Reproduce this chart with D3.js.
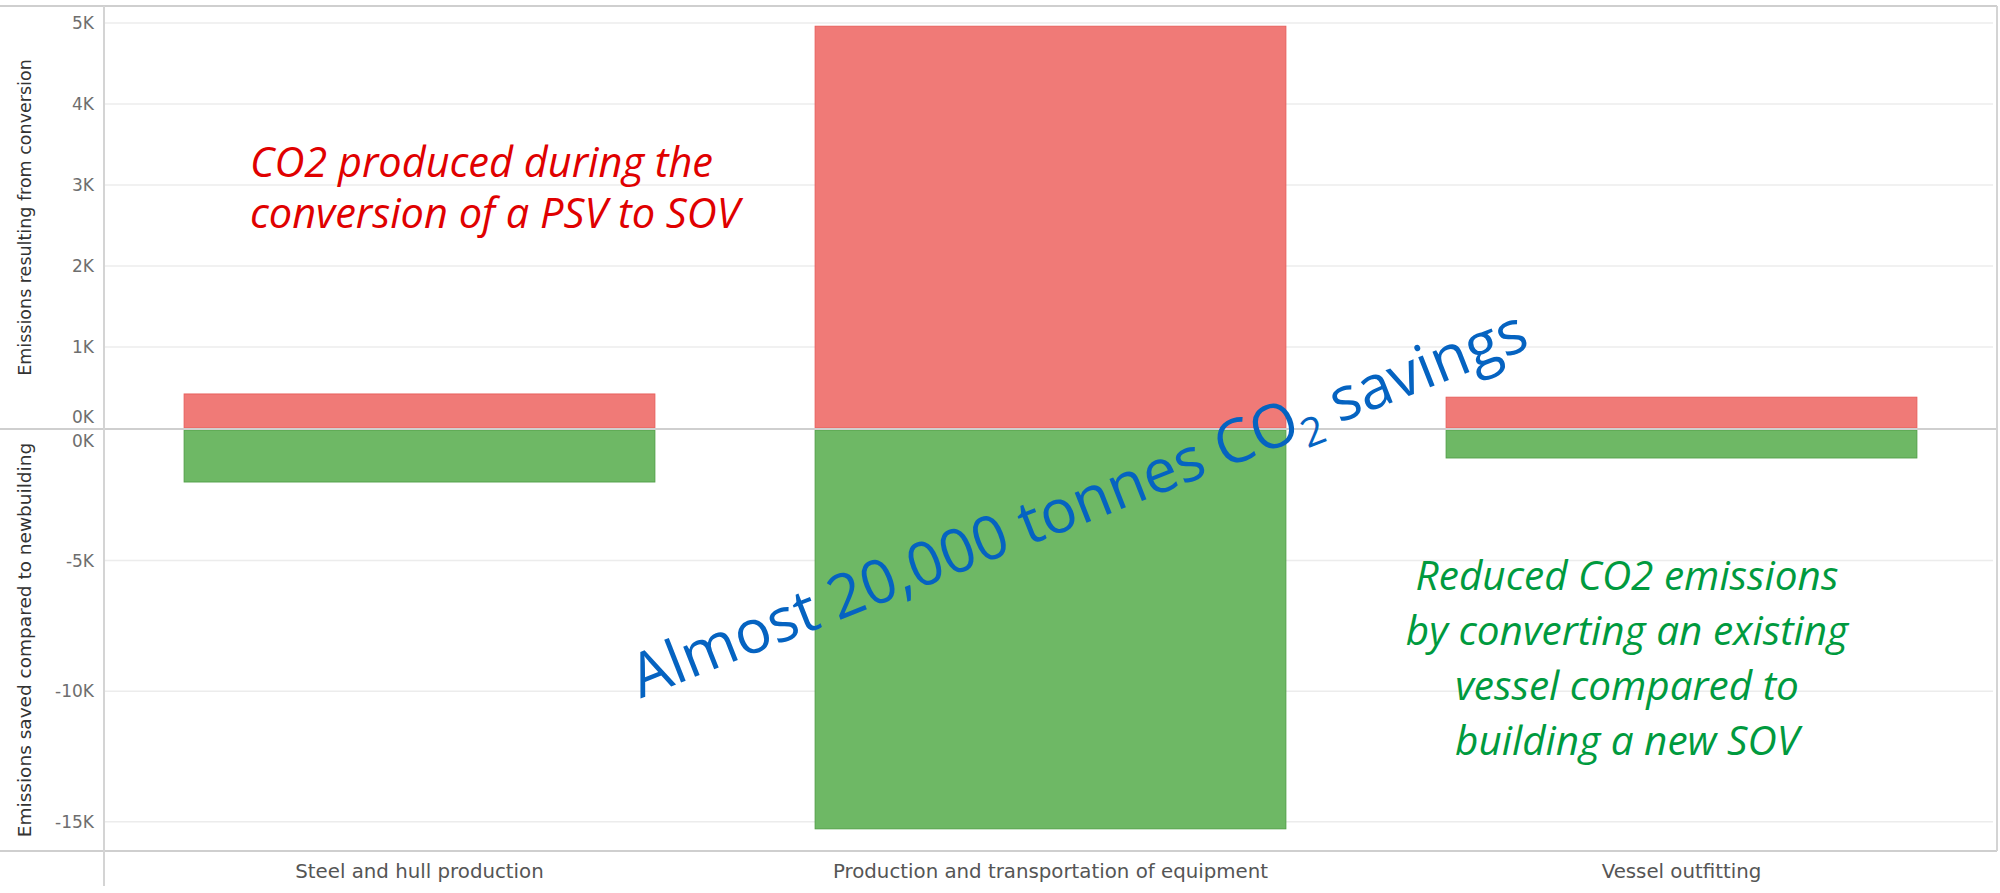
<!DOCTYPE html>
<html lang="en">
<head>
  <meta charset="UTF-8">
  <title>CO2 from PSV to SOV conversion vs newbuilding</title>
  <style>
    body {
      margin: 0;
      background-color: white;
      overflow: hidden;
    }

    .tick-label {
      font-family: "DejaVu Sans", sans-serif;
      font-size: 17px;
      fill: #6e6e6e;
    }

    .axis-title {
      font-family: "DejaVu Sans", sans-serif;
      font-size: 17.5px;
      fill: #333;
    }

    .cat-label {
      font-family: "DejaVu Sans", sans-serif;
      font-size: 19.8px;
      fill: #555;
    }

    .note {
      font-family: "Open Sans", sans-serif;
      font-style: italic;
    }
  </style>
</head>
<body>
  <script src="https://d3js.org/d3.v7.min.js"></script>
  <script>
    const width = 2000;
    const height = 893;

    const categories = ["Steel and hull production", "Production and transportation of equipment", "Vessel outfitting"];
    const produced = [420, 4960, 380];        // tonnes CO2 from conversion
    const saved = [-1990, -15270, -1070];     // tonnes CO2 saved vs newbuilding

    const topTicks = [0, 1000, 2000, 3000, 4000, 5000];
    const bottomTicks = [0, -5000, -10000, -15000];

    const redNote = ["CO2 produced during the", "conversion of a PSV to SOV"];
    const greenNote = ["Reduced CO2 emissions", "by converting an existing", "vessel compared to", "building a new SOV"];

    const left = 104, right = 1997;
    const paneTop = 6, divider = 429, paneBottom = 851;

    const svg = d3.select("body").append("svg")
      .attr("width", width)
      .attr("height", height);

    svg.append("rect")
      .attr("width", width)
      .attr("height", height)
      .attr("fill", "white");

    const x = d3.scaleBand()
      .domain(categories)
      .range([left, right])
      .paddingInner(0.254)
      .paddingOuter(0.127);

    const yTop = d3.scaleLinear()
      .domain([0, 5210])
      .range([divider - 1, paneTop]);

    const yBot = d3.scaleLinear()
      .domain([0, -16120])
      .range([divider + 1, paneBottom]);

    const fmt = d => (d / 1000) + "K";

    // gridlines
    svg.append("g")
      .selectAll("line")
      .data(topTicks.filter(d => d !== 0))
      .enter()
      .append("line")
      .attr("x1", left)
      .attr("x2", right - 4)
      .attr("y1", d => yTop(d))
      .attr("y2", d => yTop(d))
      .attr("stroke", "#ececec")
      .attr("stroke-width", 1.5);

    svg.append("g")
      .selectAll("line")
      .data(bottomTicks.filter(d => d !== 0))
      .enter()
      .append("line")
      .attr("x1", left)
      .attr("x2", right - 4)
      .attr("y1", d => yBot(d))
      .attr("y2", d => yBot(d))
      .attr("stroke", "#ececec")
      .attr("stroke-width", 1.5);

    // bars
    svg.append("g")
      .selectAll("rect")
      .data(categories)
      .enter()
      .append("rect")
      .attr("x", d => x(d))
      .attr("width", x.bandwidth())
      .attr("y", (d, i) => yTop(produced[i]))
      .attr("height", (d, i) => yTop(0) - yTop(produced[i]))
      .attr("fill", "#f07a77")
      .attr("stroke", "#e8605d")
      .attr("stroke-width", 1);

    svg.append("g")
      .selectAll("rect")
      .data(categories)
      .enter()
      .append("rect")
      .attr("x", d => x(d))
      .attr("width", x.bandwidth())
      .attr("y", yBot(0))
      .attr("height", (d, i) => yBot(saved[i]) - yBot(0))
      .attr("fill", "#6eb865")
      .attr("stroke", "#52a048")
      .attr("stroke-width", 1);

    // frame lines
    const hLines = [paneTop, divider, paneBottom];
    svg.append("g")
      .selectAll("line")
      .data(hLines)
      .enter()
      .append("line")
      .attr("x1", 0)
      .attr("x2", right)
      .attr("y1", d => d)
      .attr("y2", d => d)
      .attr("stroke", "#cfcfcf")
      .attr("stroke-width", 2);

    svg.append("line")
      .attr("x1", left).attr("x2", left)
      .attr("y1", paneTop).attr("y2", 886)
      .attr("stroke", "#d4d4d4")
      .attr("stroke-width", 2);

    svg.append("line")
      .attr("x1", right).attr("x2", right)
      .attr("y1", paneTop).attr("y2", paneBottom)
      .attr("stroke", "#d4d4d4")
      .attr("stroke-width", 2);

    // y tick labels
    const topAxis = svg.append("g")
      .attr("transform", `translate(${left},0)`)
      .call(d3.axisLeft(yTop).tickValues(topTicks).tickFormat(fmt).tickSize(0).tickPadding(10));
    const botAxis = svg.append("g")
      .attr("transform", `translate(${left},0)`)
      .call(d3.axisLeft(yBot).tickValues(bottomTicks).tickFormat(fmt).tickSize(0).tickPadding(10));

    [topAxis, botAxis].forEach(g => {
      g.select(".domain").remove();
      g.selectAll("text")
        .attr("class", "tick-label")
        .attr("font-family", null)
        .attr("font-size", null)
        .attr("fill", null);
      g.attr("font-family", null).attr("font-size", null);
    });
    topAxis.selectAll(".tick").filter(d => d === 0).select("text").attr("dy", "-0.35em");
    botAxis.selectAll(".tick").filter(d => d === 0).select("text").attr("dy", "0.95em");

    // axis titles
    svg.append("text")
      .attr("class", "axis-title")
      .attr("transform", `translate(31,${(paneTop + divider) / 2}) rotate(-90)`)
      .attr("text-anchor", "middle")
      .text("Emissions resulting from conversion");

    svg.append("text")
      .attr("class", "axis-title")
      .attr("transform", `translate(31,${(divider + paneBottom) / 2}) rotate(-90)`)
      .attr("text-anchor", "middle")
      .style("font-size", "18.5px")
      .text("Emissions saved compared to newbuilding");

    // category labels
    svg.append("g")
      .selectAll("text")
      .data(categories)
      .enter()
      .append("text")
      .attr("class", "cat-label")
      .attr("x", d => x(d) + x.bandwidth() / 2)
      .attr("y", 878)
      .attr("text-anchor", "middle")
      .text(d => d);

    // annotations
    svg.append("g")
      .selectAll("text")
      .data(redNote)
      .enter()
      .append("text")
      .attr("class", "note")
      .attr("x", 250)
      .attr("y", (d, i) => 177 + i * 51)
      .attr("font-size", 41.5)
      .attr("fill", "#e00000")
      .text(d => d);

    svg.append("g")
      .selectAll("text")
      .data(greenNote)
      .enter()
      .append("text")
      .attr("class", "note")
      .attr("x", 1627)
      .attr("y", (d, i) => 590 + i * 55)
      .attr("text-anchor", "middle")
      .attr("font-size", 40.5)
      .attr("fill", "#009a3e")
      .text(d => d);

    const big = svg.append("text")
      .attr("font-family", "'Open Sans', sans-serif")
      .attr("font-size", 60.5)
      .attr("fill", "#0563c1")
      .attr("text-anchor", "middle")
      .attr("transform", "translate(1086,523) rotate(-21.5)");
    big.append("tspan").text("Almost 20,000 tonnes CO");
    big.append("tspan").attr("font-size", 40).attr("dy", 12).text("2");
    big.append("tspan").attr("dy", -12).text(" savings");
  </script>
</body>
</html>
